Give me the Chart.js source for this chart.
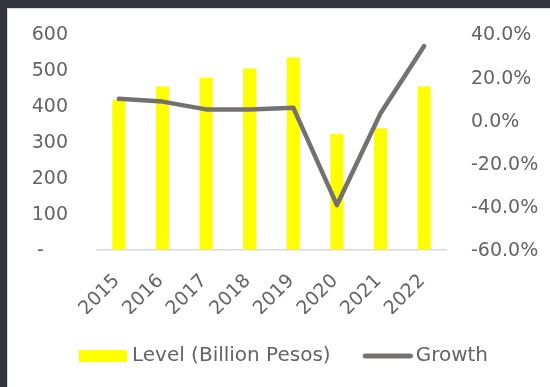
<!DOCTYPE html>
<html>
<head>
<meta charset="utf-8">
<script src="https://cdn.jsdelivr.net/npm/chart.js@4/dist/chart.umd.min.js"></script>
<style>
  html, body { margin: 0; padding: 0; background: #34343e; }
  #marco {
    position: absolute; left: 7px; top: 8px;
    width: 542px; height: 378px;
    background: #fff;
    border-top: 1px solid #d9d9d9;
    border-left: 1px solid #d9d9d9;
  }
  #grafico { display: block; }
</style>
</head>
<body>
<div id="marco"><canvas id="grafico" width="542" height="378"></canvas></div>
<script>
// datos
const anios = ['2015', '2016', '2017', '2018', '2019', '2020', '2021', '2022'];
const nivel = [417, 454, 479, 504, 535, 322, 338, 454];
const crecimiento = [10.0, 8.7, 5.1, 5.0, 5.9, -39.2, 3.3, 34.4];
const ticksNivel = [0, 100, 200, 300, 400, 500, 600];
const ticksCrec = [-60, -40, -20, 0, 20, 40];

const amarillo = '#ffff00';
const grisLinea = '#767171';
const gris = '#646464';
const fuente = { family: 'DejaVu Sans', size: 19 };
const fuenteLeyenda = { family: 'DejaVu Sans', size: 20 };

// iconos de la leyenda (rectangulo y linea), centrados en el hueco de la caja
function icono(ancho, dibujar) {
    const c = document.createElement('canvas');
    c.width = ancho;
    c.height = 14;
    dibujar(c.getContext('2d'), c);
    return c;
}
const iconoBarra = icono(53, (g, c) => {
    g.fillStyle = amarillo;
    g.fillRect(5, 1, 48, 12);
});
const iconoLinea = icono(57, (g, c) => {
    g.strokeStyle = grisLinea;
    g.lineWidth = 5;
    g.lineCap = 'round';
    g.beginPath();
    g.moveTo(9.5, 7);
    g.lineTo(54.5, 7);
    g.stroke();
});

window.onload = function () {

    const ctx = document.getElementById('grafico');

    new Chart(ctx, {
        data: {
            labels: anios,
            datasets: [
                {
                    type: 'bar',
                    label: 'Level (Billion Pesos)',
                    data: nivel,
                    backgroundColor: amarillo,
                    borderWidth: 0,
                    yAxisID: 'y',
                    barPercentage: 0.6,
                    categoryPercentage: 0.5,
                    order: 2
                },
                {
                    type: 'line',
                    label: 'Growth',
                    data: crecimiento,
                    borderColor: grisLinea,
                    backgroundColor: grisLinea,
                    borderWidth: 4.5,
                    borderCapStyle: 'round',
                    borderJoinStyle: 'round',
                    pointRadius: 0,
                    tension: 0,
                    yAxisID: 'y1',
                    order: 1
                }
            ]
        },
        options: {
            responsive: false,
            animation: false,
            layout: { padding: { left: 9, right: 0, top: 25, bottom: 11 } },
            plugins: {
                tooltip: { enabled: false },
                legend: {
                    position: 'bottom',
                    labels: {
                        font: fuenteLeyenda,
                        color: gris,
                        usePointStyle: true,
                        pointStyleWidth: 43,
                        boxHeight: 12,
                        padding: 32,
                        sort: (a, b) => a.datasetIndex - b.datasetIndex,
                        generateLabels: function (chart) {
                            const items = Chart.defaults.plugins.legend.labels.generateLabels(chart);
                            items.forEach(it => {
                                it.pointStyle = it.datasetIndex === 0 ? iconoBarra : iconoLinea;
                                it.lineWidth = 0;
                            });
                            return items;
                        }
                    }
                }
            },
            scales: {
                x: {
                    grid: { display: false },
                    border: { display: true, color: '#d9d9d9', width: 1.5 },
                    ticks: {
                        font: fuente, color: gris, minRotation: 45, maxRotation: 45,
                        padding: 12, labelOffset: -2
                    },
                    afterFit: s => { s.height = 64; }
                },
                y: {
                    position: 'left',
                    min: 0, max: 600,
                    grid: { display: true, drawOnChartArea: false, drawTicks: true, tickLength: 29, color: 'transparent' },
                    border: { display: false },
                    afterBuildTicks: s => { s.ticks = ticksNivel.map(v => ({ value: v })); },
                    ticks: {
                        font: fuente, color: gris, padding: 0, labelOffset: 1.5,
                        callback: v => v === 0 ? '-    ' : String(v)
                    },
                    afterFit: s => { s.width = 80; }
                },
                y1: {
                    position: 'right',
                    min: -60, max: 40,
                    grid: { display: true, drawOnChartArea: false, drawTicks: true, tickLength: 25, color: 'transparent' },
                    border: { display: false },
                    afterBuildTicks: s => { s.ticks = ticksCrec.map(v => ({ value: v })); },
                    ticks: {
                        font: fuente, color: gris, padding: 0, labelOffset: 1.5,
                        callback: v => v.toFixed(1) + '%'
                    },
                    afterFit: s => { s.width = 104; }
                }
            }
        }
    });
};
</script>
</body>
</html>
